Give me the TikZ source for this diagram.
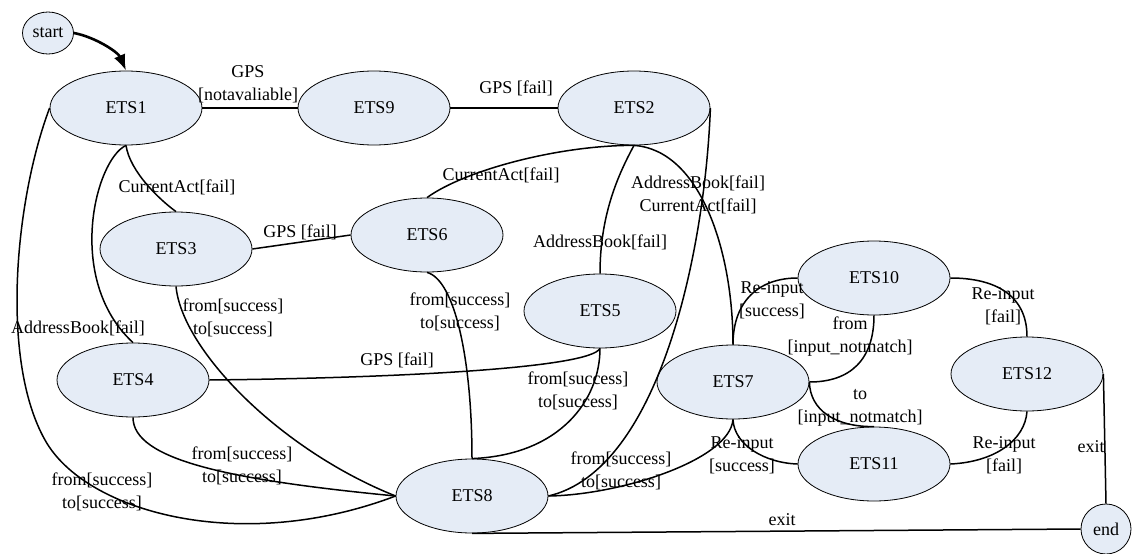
\documentclass[tikz,border=0pt]{standalone}
\usepackage{fontspec}
\setmainfont{Liberation Serif}
\usetikzlibrary{shapes.geometric,arrows.meta}
\definecolor{etsfill}{RGB}{229,236,246}

\begin{document}
\begin{tikzpicture}[x=1pt,y=-1pt,
    ets/.style={ellipse,draw,fill=etsfill,line width=0.8pt,minimum width=152pt,minimum height=74pt,inner sep=0pt,font=\fontsize{18}{23}\selectfont},
    term/.style={ellipse,draw,fill=etsfill,line width=0.8pt,inner sep=0pt,font=\fontsize{18}{23}\selectfont},
    lnk/.style={line width=1.5pt},
    lbl/.style={align=center,inner sep=0pt,font=\fontsize{18}{23}\selectfont}]
    \useasboundingbox (0,0) rectangle (1133,554);

    % States
    \node[term,minimum width=51pt,minimum height=42pt] (start) at (48,33) {start};
    \node[ets] (ETS1) at (126,108) {ETS1};
    \node[ets] (ETS9) at (374,108) {ETS9};
    \node[ets] (ETS2) at (634,108) {ETS2};
    \node[ets] (ETS6) at (427,235) {ETS6};
    \node[ets] (ETS3) at (176,249) {ETS3};
    \node[ets] (ETS5) at (600,311) {ETS5};
    \node[ets] (ETS4) at (133,380) {ETS4};
    \node[ets] (ETS7) at (733,382) {ETS7};
    \node[ets] (ETS10) at (874,278) {ETS10};
    \node[ets] (ETS12) at (1027,374) {ETS12};
    \node[ets] (ETS11) at (874,464) {ETS11};
    \node[ets] (ETS8) at (472,496) {ETS8};
    \node[term,minimum width=50pt,minimum height=50pt] (end) at (1106,529) {end};

    % Entry arrow
    \draw[line width=2.6pt,-{Latex[length=16pt,width=12pt]}] (start.east) .. controls (95,37) and (118,52) .. (ETS1.north);

    % Transitions along the top row
    \draw[lnk] (ETS1.east) -- (ETS9.west);
    \draw[lnk] (ETS9.east) -- (ETS2.west);

    % Transitions out of ETS1
    \draw[lnk] (ETS1.south) .. controls (130,172) and (160,200) .. (ETS3.north);
    \draw[lnk] (ETS1.south) .. controls (95,160) and (65,280) .. (ETS4.north);
    \draw[lnk] (ETS1.west) .. controls (15,200) and (0,360) .. (45,440)
        .. controls (85,512) and (240,555) .. (ETS8.west);

    % Transitions out of ETS3, ETS4 and ETS6
    \draw[lnk] (ETS3.east) -- (ETS6.west);
    \draw[lnk] (ETS3.south) .. controls (182,350) and (280,450) .. (ETS8.west);
    \draw[lnk] (ETS4.east) .. controls (400,378) and (590,368) .. (ETS5.south);
    \draw[lnk] (ETS4.south) .. controls (133,460) and (230,480) .. (ETS8.west);
    \draw[lnk] (ETS6.south) .. controls (455,280) and (472,360) .. (ETS8.north);
    \draw[lnk] (ETS6.north) .. controls (465,170) and (560,145) .. (ETS2.south);

    % Transitions out of ETS2 and ETS5
    \draw[lnk] (ETS2.south) .. controls (618,175) and (600,215) .. (ETS5.north);
    \draw[lnk] (ETS2.south) .. controls (700,150) and (733,250) .. (ETS7.north);
    \draw[lnk] (ETS2.east) .. controls (705,250) and (660,470) .. (ETS8.east);
    \draw[lnk] (ETS5.south) .. controls (600,400) and (560,455) .. (ETS8.north);
    \draw[lnk] (ETS7.south) .. controls (730,460) and (620,495) .. (ETS8.east);

    % Re-input loop on the right
    \draw[lnk] (ETS7.north) .. controls (733,300) and (760,278) .. (ETS10.west);
    \draw[lnk] (ETS7.east) .. controls (850,382) and (874,360) .. (ETS10.south);
    \draw[lnk] (ETS7.east) .. controls (810,410) and (835,427) .. (ETS11.north);
    \draw[lnk] (ETS7.south) .. controls (734,445) and (765,463) .. (ETS11.west);
    \draw[lnk] (ETS10.east) .. controls (995,278) and (1027,295) .. (ETS12.north);
    \draw[lnk] (ETS12.south) .. controls (1025,440) and (995,462) .. (ETS11.east);

    % Exits
    \draw[lnk] (ETS12.east) -- (end.north);
    \draw[lnk] (ETS8.south) -- (end.west);

    % Labels
    \node[lbl] (l1) at (248,84) {GPS\\{[notavaliable]}};
    \node[lbl] (l2) at (516,88) {GPS [fail]};
    \node[lbl] (l3) at (177,187) {CurrentAct[fail]};
    \node[lbl] (l4) at (78,328) {AddressBook[fail]};
    \node[lbl] (l5) at (300,232) {GPS [fail]};
    \node[lbl] (l6) at (233,318) {from[success]\\to[success]};
    \node[lbl] (l7) at (397,360) {GPS [fail]};
    \node[lbl] (l8) at (242,466) {from[success]\\to[success]};
    \node[lbl] (l9) at (102,492) {from[success]\\to[success]};
    \node[lbl] (l10) at (460,312) {from[success]\\to[success]};
    \node[lbl] (l11) at (501,175) {CurrentAct[fail]};
    \node[lbl] (l12) at (600,242) {AddressBook[fail]};
    \node[lbl] (l13) at (698,195) {AddressBook[fail]\\CurrentAct[fail]};
    \node[lbl] (l14) at (578,391) {from[success]\\to[success]};
    \node[lbl] (l15) at (621,471) {from[success]\\to[success]};
    \node[lbl] (l16) at (772,300) {Re-input\\{[success]}};
    \node[lbl] (l17) at (850,337) {from\\{[input\_notmatch]}};
    \node[lbl] (l18) at (860,408) {to\\{[input\_notmatch]}};
    \node[lbl] (l19) at (742,455) {Re-input\\{[success]}};
    \node[lbl] (l20) at (1003,306) {Re-input\\{[fail]}};
    \node[lbl] (l21) at (1004,455) {Re-input\\{[fail]}};
    \node[lbl] (l22) at (1091,447) {exit};
    \node[lbl] (l23) at (782,520) {exit};
\end{tikzpicture}
\end{document}
